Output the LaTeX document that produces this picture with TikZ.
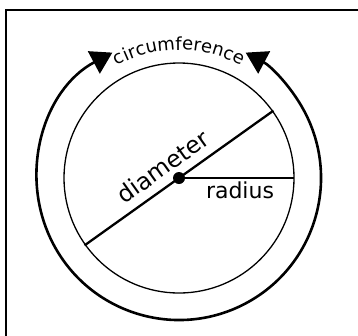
\documentclass[tikz,border=0pt]{standalone}
\usepackage{fontspec}
\setmainfont{DejaVu Sans}
\usetikzlibrary{arrows.meta,decorations.text,calc}
\newcommand{\bigfont}{\fontsize{22}{26}\selectfont}
\newcommand{\diafont}{\fontsize{23.5}{28}\selectfont}
\newcommand{\circfont}{\fontsize{18}{21}\selectfont}
\tikzset{
  frameline/.style={line width=2pt, line cap=rect},
  outerring/.style={line width=2.6pt, {Triangle[length=21pt,width=25pt]}-{Triangle[length=21pt,width=25pt]}},
  innerring/.style={line width=1.3pt},
  measure/.style={line width=2.3pt},
  label/.style={font=\bigfont, inner sep=0pt, anchor=base}
}
\begin{document}
\begin{tikzpicture}[x=1pt,y=1pt]
\useasboundingbox (0,0) rectangle (358,-335);
\fill[white] (0,0) rectangle (358,-335);
% frame (only top and left edges visible)
\draw[frameline] (6,-340) -- (6,-10) -- (362,-10);
\coordinate (c) at (179,-178);
% inner circle
\draw[innerring] (c) circle[radius=115];
% outer arc with arrows
\draw[outerring] (c) ++(118:142) arc[start angle=118, end angle=422, radius=142];
% circumference text
\path[decorate, decoration={text along path, text align=center,
   text={|\circfont|circumference}}]
   (c) ++(119:128) arc[start angle=119, end angle=61, radius=128];
% diameter
\coordinate (d1) at ($(c)+(35.5:116)$);
\coordinate (d2) at ($(c)+(215.5:116)$);
\draw[measure] (d1) -- (d2);
% radius
\coordinate (r1) at ($(c)+(0:115)$);
\draw[line width=2pt] (c) -- (r1);
\fill (c) circle[radius=6];
\node[label, font=\diafont, rotate=35.5] (dia) at ($(c)+(35.5:-6.5)+(125.5:10)$) {diameter};
\node[label] (rad) at (240,-198) {radius};
\end{tikzpicture}
\end{document}
